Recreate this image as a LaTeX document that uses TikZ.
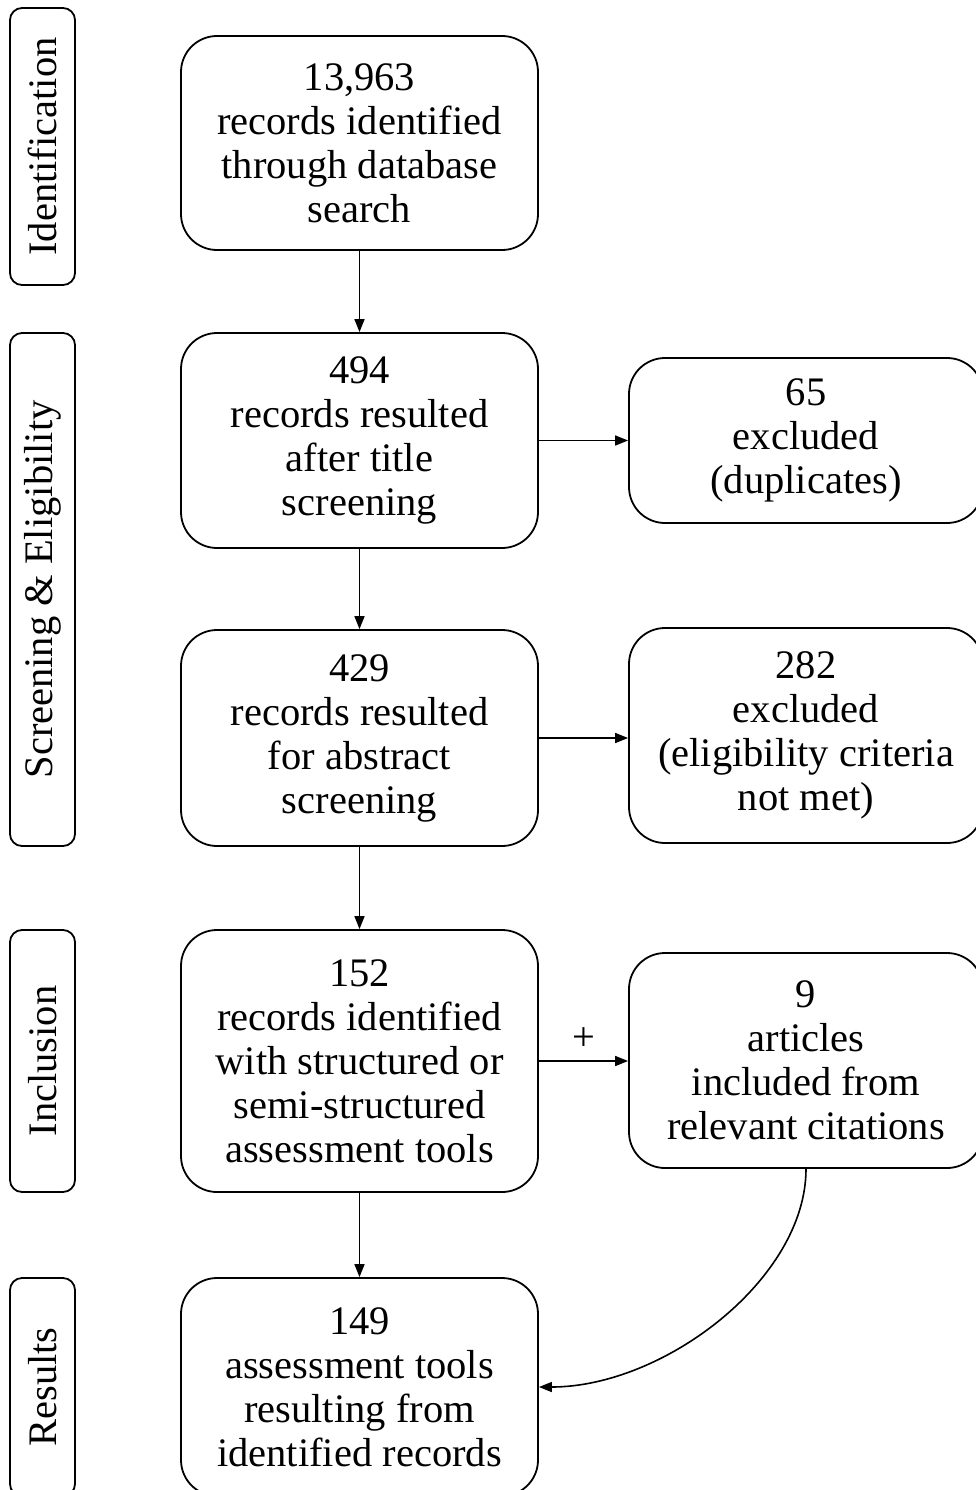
\documentclass[tikz,border=0pt]{standalone}
\usepackage{fontspec}
\setmainfont{Liberation Serif}
\usetikzlibrary{arrows.meta,calc}
\begin{document}
\begin{tikzpicture}[x=1pt,y=-1pt,
  txt/.style={font=\fontsize{40.5}{44}\selectfont},
  box/.style={txt, draw, line width=1.8pt, rounded corners=36pt, align=center, inner sep=0pt},
  stage/.style={txt, draw, line width=1.8pt, rounded corners=12pt, inner sep=0pt, rotate=90, minimum height=65pt},
  arr/.style={-{Triangle[length=13pt,width=10pt]}, line width=1.6pt}]
\useasboundingbox (0,0) rectangle (975,1490);
% stage labels
\node[stage, minimum width=277pt] (s1) at (42.5,146.5) {Identification};
\node[stage, minimum width=513pt] (s2) at (42.5,589.5) {Screening \& Eligibility};
\node[stage, minimum width=262pt] (s3) at (42.5,1061) {Inclusion};
\node[stage, minimum width=218pt] (s4) at (42.5,1387) {Results};
% main boxes
\node[box, minimum width=357pt, minimum height=214pt] (b1) at (359.5,143) {13,963\\records identified\\through database\\search};
\node[box, minimum width=357pt, minimum height=215pt] (b2) at (359.5,440.5) {494\\records resulted\\after title\\screening};
\node[box, minimum width=357pt, minimum height=216pt] (b3) at (359.5,738) {429\\records resulted\\for abstract\\screening};
\node[box, minimum width=357pt, minimum height=262pt] (b4) at (359.5,1061) {152\\records identified\\with structured or\\semi-structured\\assessment tools};
\node[box, minimum width=357pt, minimum height=218pt] (b5) at (359.5,1387) {149\\assessment tools\\resulting from\\identified records};
% right boxes
\node[box, minimum width=354pt, minimum height=165pt] (r1) at (806,440.5) {65\\excluded\\(duplicates)};
\node[box, minimum width=354pt, minimum height=215pt] (r2) at (806,735.5) {282\\excluded\\(eligibility criteria\\not met)};
\node[box, minimum width=354pt, minimum height=215pt] (r3) at (806,1060.5) {9\\articles\\included from\\relevant citations};
% connectors
\draw[arr] (b1) -- (b2);
\draw[arr] (b2) -- (b3);
\draw[arr] (b3) -- (b4);
\draw[arr] (b4) -- (b5);
\draw[arr] (b2.east) -- (b2.east -| r1.west);
\draw[arr] (b3.east) -- (b3.east -| r2.west);
\draw[arr] (b4.east) -- node[txt, midway, above=6pt] {+} (b4.east -| r3.west);
\draw[arr] (r3.south) .. controls ($(r3.south)+(0,110)$) and ($(b5.east)+(125,0)$) .. (b5.east);
\end{tikzpicture}
\end{document}
